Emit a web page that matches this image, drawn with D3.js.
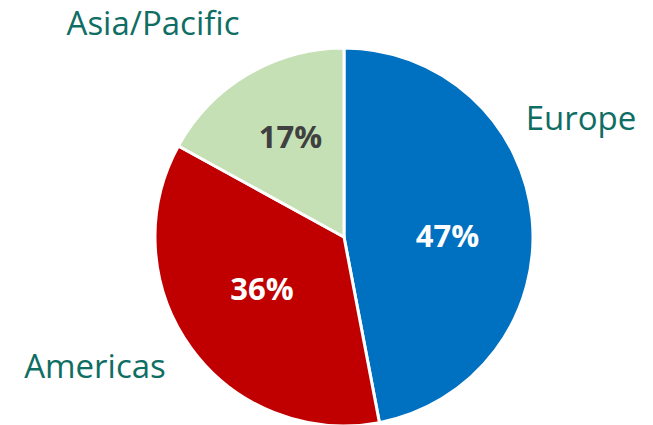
<!DOCTYPE html>
<html>
<head>
<meta charset="utf-8">
<script src="https://cdn.jsdelivr.net/npm/d3@7"></script>
<style>
  body { margin: 0; background: #fff; }
  svg { display: block; font-family: 'Open Sans', Lato, sans-serif; }
</style>
</head>
<body>
<div id="chart"></div>
<script>
let width = 653
let height = 425

let regions = ['Europe', 'Americas', 'Asia/Pacific']
let shares = [47, 36, 17]
let sliceColors = ['#0070c0', '#c00000', '#c5e0b4']
let valueColors = ['#ffffff', '#ffffff', '#404040']

let cx = 344, cy = 237, radius = 189, labelRadius = 105

// outer category labels sit by hand like the original slide
let outerPos = {
    'Europe': [581, 130],
    'Americas': [95, 378],
    'Asia/Pacific': [153, 35]
}
// small nudges of the value labels off the centroid
let labelNudge = {
    'Europe': [-1, 9],
    'Americas': [3, -10],
    'Asia/Pacific': [0, -10]
}

let svg = d3.select('#chart')
    .append('svg')
    .attr('width', width)
    .attr('height', height)

let g = svg.append('g')
    .attr('transform', `translate(${cx}, ${cy})`)

let data = regions.map((r, i) => ({ region: r, value: shares[i], i: i }))

let pie = d3.pie()
    .value(d => d.value)
    .sort(null)

let arc = d3.arc()
    .innerRadius(0)
    .outerRadius(radius)

let labelArc = d3.arc()
    .innerRadius(labelRadius)
    .outerRadius(labelRadius)

let arcs = pie(data)

g.selectAll('path')
    .data(arcs)
    .enter()
    .append('path')
    .attr('d', arc)
    .attr('fill', d => sliceColors[d.data.i])
    .attr('stroke', '#fff')
    .attr('stroke-width', 3)
    .attr('stroke-linejoin', 'round')

g.selectAll('text.pct')
    .data(arcs)
    .enter()
    .append('text')
    .classed('pct', true)
    .attr('transform', d => {
        let c = labelArc.centroid(d)
        let n = labelNudge[d.data.region]
        return `translate(${c[0] + n[0]}, ${c[1] + n[1]})`
    })
    .attr('text-anchor', 'middle')
    .attr('dy', '0.36em')
    .attr('font-size', 31)
    .attr('font-weight', 'bold')
    .attr('fill', d => valueColors[d.data.i])
    .text(d => d.data.value + '%')

svg.selectAll('text.cat')
    .data(regions)
    .enter()
    .append('text')
    .classed('cat', true)
    .attr('x', d => outerPos[d][0])
    .attr('y', d => outerPos[d][1])
    .attr('text-anchor', 'middle')
    .attr('font-size', 33)
    .attr('fill', '#0f6e64')
    .text(d => d)
</script>
</body>
</html>
